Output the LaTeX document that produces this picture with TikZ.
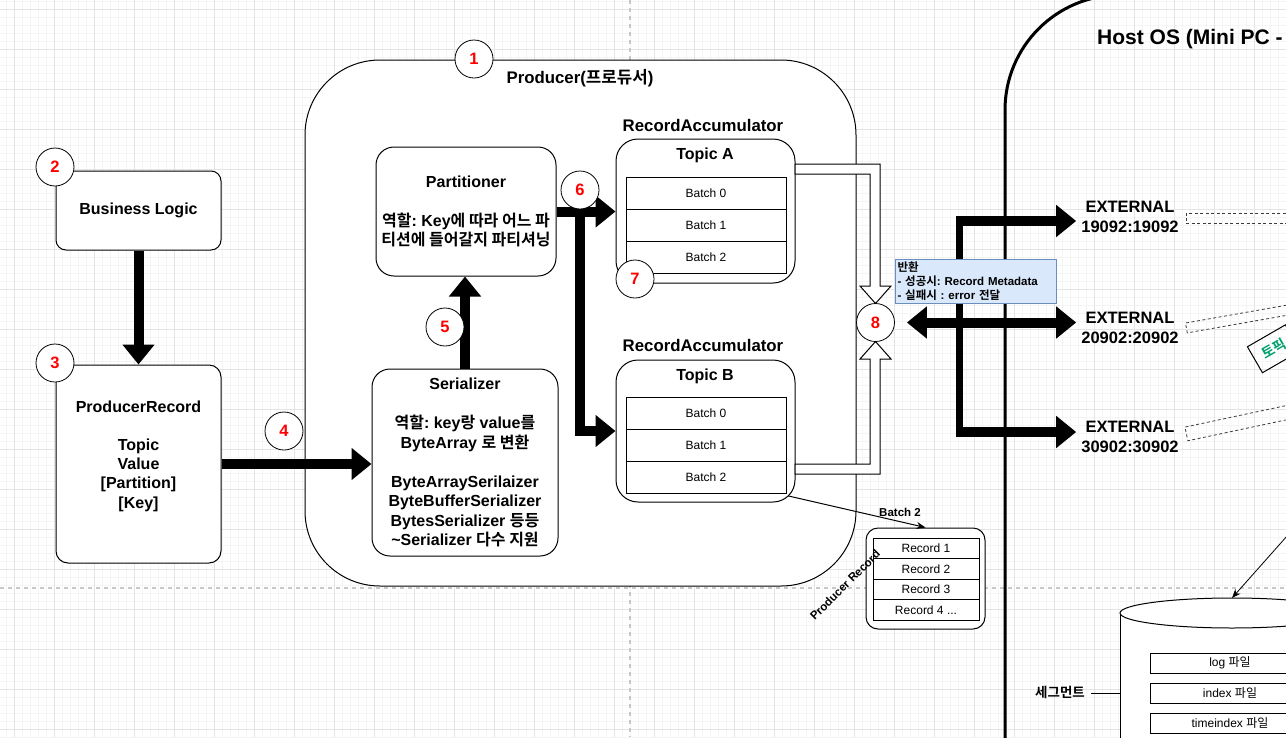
\documentclass[tikz,border=0pt]{standalone}
\usepackage{fontspec}
\setmainfont{Liberation Sans}
\newfontfamily\kr{Noto Sans CJK KR}[BoldFont={Noto Sans CJK KR Bold}]
\usetikzlibrary{arrows.meta,calc}
\newcommand\K[1]{{\kr #1}}
\newcommand\fs[2]{\fontsize{#1}{#2}\selectfont}
\frenchspacing
\definecolor{gridminor}{RGB}{244,244,244}
\definecolor{gridmajor}{RGB}{228,228,228}
\definecolor{pagedash}{RGB}{200,200,200}
\definecolor{numred}{RGB}{255,0,0}
\definecolor{tipfill}{RGB}{218,232,252}
\definecolor{tipdraw}{RGB}{108,142,191}
\definecolor{topicgreen}{RGB}{0,160,110}
\definecolor{dashgray}{RGB}{60,60,60}
\tikzset{
  ln/.style={line width=1pt},
  rbox/.style={draw, line width=1pt, fill=white, inner sep=0pt},
  btitle/.style={font=\fs{16}{19.5}\bfseries, align=center, inner sep=0pt},
  bigtitle/.style={font=\fs{16.8}{20}\bfseries, align=center, inner sep=0pt},
  num/.style={circle, draw, line width=0.8pt, fill=white, minimum size=38pt, inner sep=0pt, font=\fs{16.5}{16}\bfseries, text=numred},
  bigarrow/.style={line width=10pt, -{Triangle[length=20pt,width=31pt]}},
  batchcell/.style={draw, line width=1pt, fill=white, minimum width=160pt, minimum height=32pt, inner sep=0pt, font=\fs{12}{14}},
  reccell/.style={draw, line width=1pt, fill=white, minimum width=106pt, minimum height=20.5pt, inner sep=0pt, font=\fs{12}{14}},
  filecell/.style={draw, line width=1pt, fill=white, minimum width=160pt, minimum height=20pt, inner sep=0pt, font=\fs{12}{14}},
  hollowarrow/.style={draw, line width=1pt, fill=white, line join=miter},
  dashbox/.style={draw=dashgray, line width=0.8pt, dash pattern=on 3pt off 2.5pt, inner sep=0pt, minimum height=10pt},
  extlabel/.style={font=\fs{16.5}{20}\bfseries, align=center, inner sep=5pt},
}
\begin{document}
\begin{tikzpicture}[x=1pt, y=-1pt]
\useasboundingbox (0,0) rectangle (1286,737);
\clip (0,0) rectangle (1286,737);
\fill[white] (0,0) rectangle (1286,737);
% grid
\foreach \x in {6,14,...,1286} {\draw[gridminor, line width=0.8pt] (\x,0) -- (\x,737);}
\foreach \y in {1,9,...,737} {\draw[gridminor, line width=0.8pt] (0,\y) -- (1286,\y);}
\foreach \x in {14,54,...,1286} {\draw[gridmajor, line width=1pt] (\x,0) -- (\x,737);}
\foreach \y in {9,49,...,737} {\draw[gridmajor, line width=1pt] (0,\y) -- (1286,\y);}
% page break lines
\draw[pagedash, line width=1.2pt, dash pattern=on 4pt off 4pt] (630,0) -- (630,737);
\draw[pagedash, line width=1.2pt, dash pattern=on 4pt off 4pt] (0,588) -- (1286,588);

% Host OS container
\draw[line width=3pt, rounded corners=115pt] (1005,800) -- (1005,-5) -- (1400,-5);
\node[font=\fs{21}{24}\bfseries, anchor=west, inner sep=0pt] (hostos) at (1097,39) {Host OS (Mini PC -};

% Producer container
\node[rbox, rounded corners=75pt, minimum width=551pt, minimum height=526pt] (prod) at (580.5,323) {};
\node[bigtitle] (prodtitle) at (580,78) {Producer(\K{프로듀서})};

% Business logic and ProducerRecord
\node[rbox, rounded corners=10pt, minimum width=165pt, minimum height=79pt, font=\fs{16}{19}\bfseries] (biz) at (138.5,210.5) {Business Logic};
\node[rbox, rounded corners=12pt, minimum width=165pt, minimum height=198pt] (prbox) at (138.5,464) {};
\node[btitle, font=\fs{16}{19.2}\bfseries] (prtext) at (138.5,456) {ProducerRecord\\[19.2pt]Topic\\Value\\{}[Partition]\\{}[Key]};

% Partitioner and Serializer
\node[rbox, rounded corners=18pt, minimum width=180pt, minimum height=129pt, btitle] (part) at (466,211.5) {Partitioner\\[19.5pt]\K{역할}: Key\K{에 따라 어느 파}\\\K{티션에 들어갈지 파티셔닝}};
\node[rbox, rounded corners=18pt, minimum width=186pt, minimum height=187pt, btitle] (ser) at (465,462.5) {Serializer\\[19.5pt]\K{역할}: key\K{랑} value\K{를}\\ByteArray \K{로 변환}\\[19.5pt]ByteArraySerilaizer\\ByteBufferSerializer\\BytesSerializer \K{등등}\\\textasciitilde{}Serializer \K{다수 지원}};

% Batch 2 -> record connector (drawn beneath boxes)
\coordinate (bB2c) at (706,477);
\node[rbox, rounded corners=12pt, minimum width=119pt, minimum height=101pt] (recbox) at (925.5,578.5) {};
\draw[ln, -{Stealth[length=9pt,width=7pt]}] (bB2c) -- (recbox.north);
\node[font=\fs{11.5}{13}\bfseries, inner sep=0pt] (b2label) at (900,512) {Batch 2};
\node[reccell] (r1) at (926,548.25) {Record 1};
\node[reccell] (r2) at (926,568.75) {Record 2};
\node[reccell] (r3) at (926,589.25) {Record 3};
\node[reccell] (r4) at (926,609.75) {Record 4 ...};
\node[font=\fs{11.5}{13}\bfseries, rotate=45, inner sep=0pt] (prlabel) at (845,585) {Producer Record};

% Record accumulators
\node[bigtitle] (raA) at (703,125) {RecordAccumulator};
\node[rbox, rounded corners=22pt, minimum width=179pt, minimum height=144pt] (topA) at (705.5,211) {};
\node[btitle] (topAt) at (705,155) {Topic A};
\node[batchcell] (bA0) at (706,193) {Batch 0};
\node[batchcell] (bA1) at (706,225) {Batch 1};
\node[batchcell] (bA2) at (706,257) {Batch 2};

\node[bigtitle] (raB) at (703,345) {RecordAccumulator};
\node[rbox, rounded corners=22pt, minimum width=179pt, minimum height=142pt] (topB) at (705.5,431) {};
\node[btitle] (topBt) at (705,376) {Topic B};
\node[batchcell] (bB0) at (706,413) {Batch 0};
\node[batchcell] (bB1) at (706,445) {Batch 1};
\node[batchcell] (bB2) at (706,477) {Batch 2};

% hollow arrows to circle 8
\path[hollowarrow] (795,164) -- (880,164) -- (880,286) -- (891,286) -- (875.5,303.5) -- (860,286) -- (870,286) -- (870,174) -- (795,174) -- cycle;
\path[hollowarrow] (795,474) -- (880,474) -- (880,359) -- (891,359) -- (875.5,341.5) -- (860,359) -- (870,359) -- (870,464) -- (795,464) -- cycle;

% thick arrows in producer
\draw[bigarrow] (biz.south) -- (prbox.north);
\draw[bigarrow] (prbox.east |- 0,464) -- (ser.west |- 0,464);
\draw[bigarrow] (ser.north) -- (ser.north |- part.south);
\draw[bigarrow] (part.east) -- (part.east -| topA.west);
\coordinate (split) at (580,211.5);
\draw[bigarrow, line join=miter] (part.east) -- (split) |- (topB.west);

% EXTERNAL labels
\node[extlabel] (ext1) at (1130,217) {EXTERNAL\\19092:19092};
\node[extlabel] (ext2) at (1130,327.5) {EXTERNAL\\20902:20902};
\node[extlabel] (ext3) at (1130,437) {EXTERNAL\\30902:30902};

% circle 8 and its arrows
\node[num] (n8) at (875.5,322.5) {8};
\coordinate (t1) at (956,221);
\coordinate (t3) at (956,432);
\draw[line width=7pt] (959,216) -- (959,437);
\draw[bigarrow] (t1) -- (t1 -| ext1.west);
\draw[bigarrow] (t3) -- (t3 -| ext3.west);
\draw[line width=10pt, {Triangle[length=20pt,width=31pt]}-{Triangle[length=20pt,width=31pt]}, shorten <=12pt] (n8.east) -- (n8.east -| ext2.west);

% tooltip
\node[draw=tipdraw, fill=tipfill, line width=1pt, anchor=north west, text width=157pt, minimum height=44pt, inner sep=2pt, align=left, font=\fs{11.5}{14}\bfseries] (tip) at (895,259) {\K{반환}\\- \K{성공시}: Record Metadata\\- \K{실패시} : error \K{전달}};

% dashed links on the right
\node[dashbox, anchor=west, minimum width=130pt] (d1) at (1186,218) {};
\node[dashbox, anchor=west, minimum width=130pt, rotate=10] (d2) at (1186,328) {};
\node[dashbox, anchor=west, minimum width=130pt, minimum height=14pt, rotate=12] (d3) at (1186,434) {};
\node[draw, line width=1pt, anchor=west, rotate=30, minimum height=30pt, inner xsep=9pt, font=\fs{14}{16}\bfseries, text=topicgreen] (topicbox) at (1254.5,360) {\K{토픽}\hspace{80pt}};

% segment cylinder
\coordinate (cylsrc) at (1300,521.4);
\fill[white] (1120,613) rectangle (1344,760);
\draw[ln] (1120,613) -- (1120,760);
\draw[ln, fill=white] (1232,613) ellipse[x radius=112, y radius=15];
\coordinate (cyltop) at (1232,598);
\draw[line width=0.8pt, -{Stealth[length=9pt,width=7pt]}] (cylsrc) -- (cyltop);
\node[filecell] (f1) at (1230,663) {log \K{파일}};
\node[filecell] (f2) at (1230,693) {index \K{파일}};
\node[filecell] (f3) at (1230,723) {timeindex \K{파일}};
\node[font=\fs{13.5}{16}\bfseries, inner sep=0pt] (seg) at (1060,692) {\K{세그먼트}};
\coordinate (cylleft) at (1120,693);
\draw[ln] (seg.east |- cylleft) ++(6,0) -- (cylleft);

% numbered circles
\node[num] (n1) at (474,59) {1};
\node[num] (n2) at (55,167) {2};
\node[num] (n3) at (55,363) {3};
\node[num] (n4) at (284,431) {4};
\node[num] (n5) at (445,327) {5};
\node[num] (n6) at (580,190) {6};
\node[num] (n7) at (635,279) {7};
\end{tikzpicture}
\end{document}
